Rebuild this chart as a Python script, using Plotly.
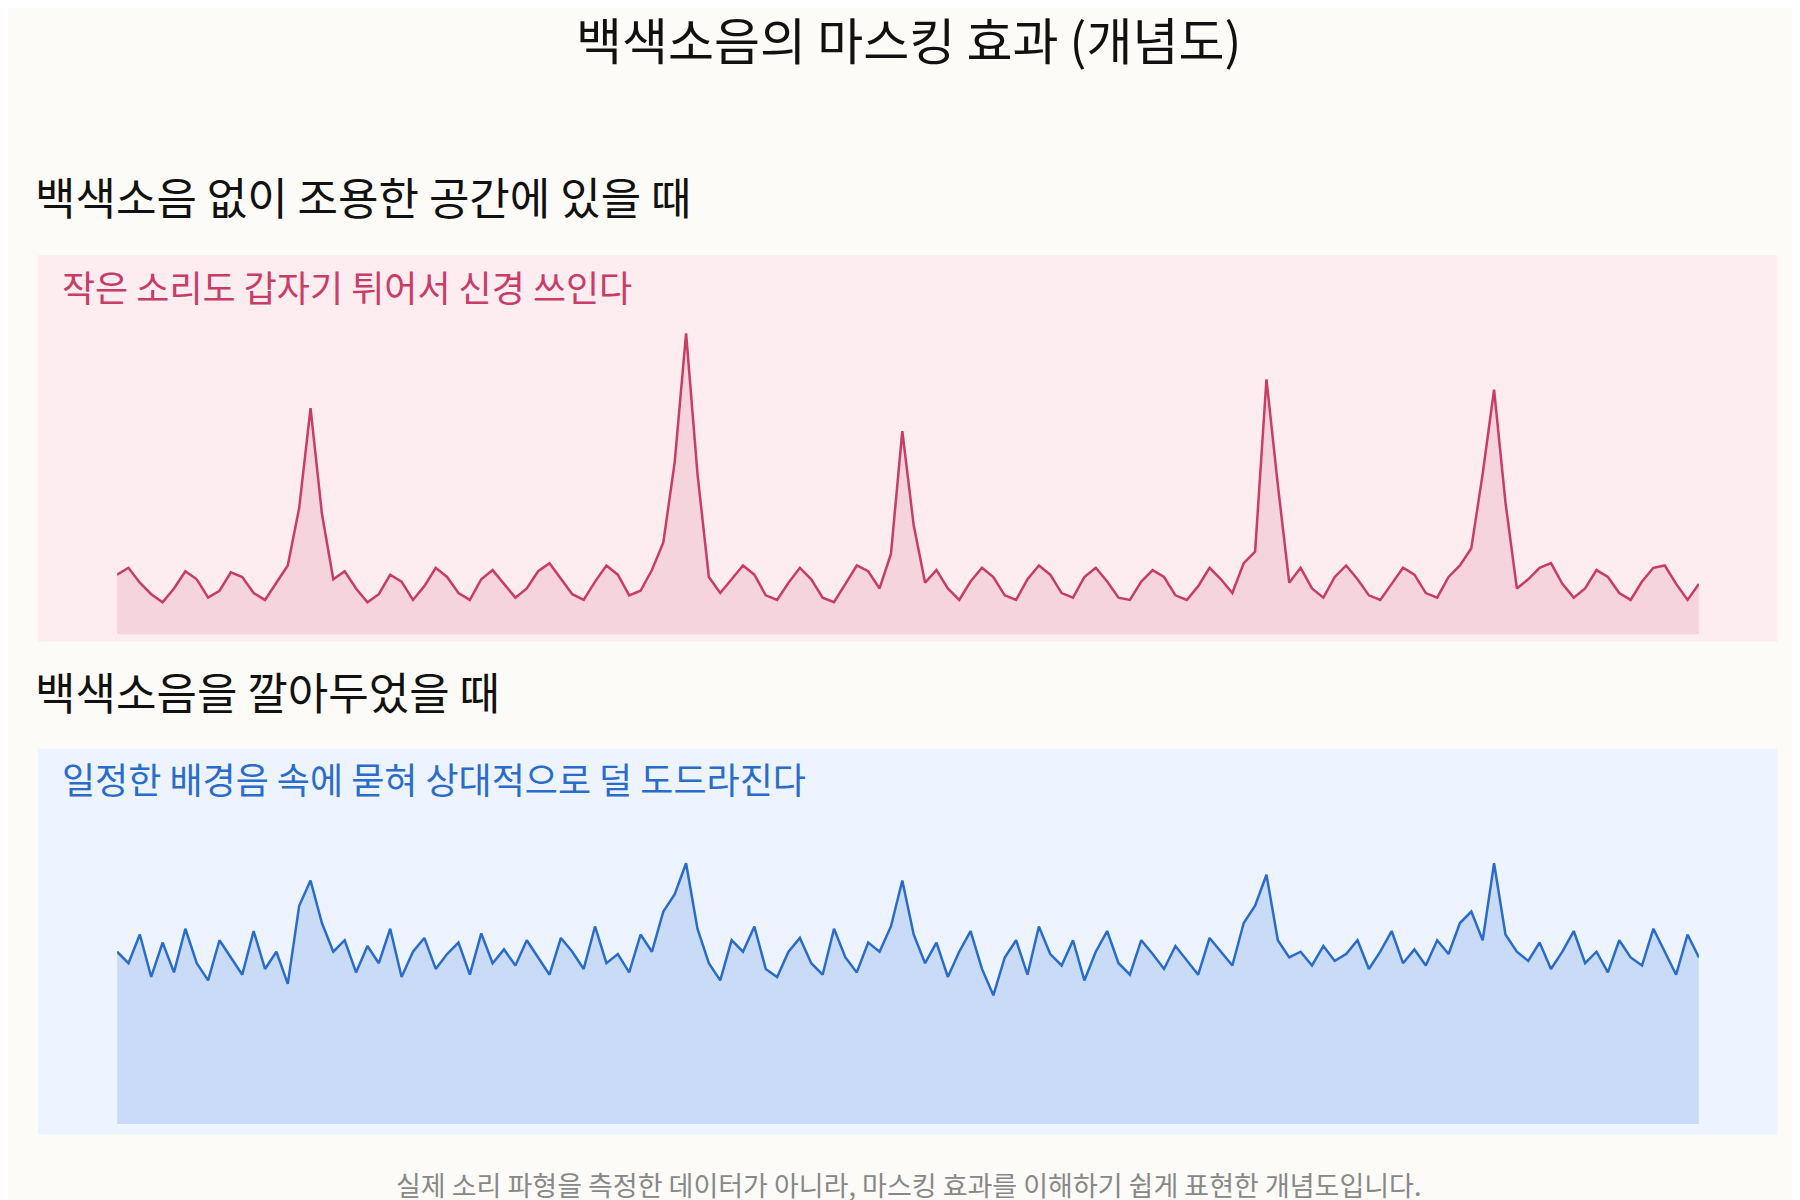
import plotly.graph_objects as go

# sample positions 0..138 across the panel; heights are pixel-like amplitude units
quiet = [52, 58, 45, 35, 28, 40, 55, 48, 32, 38,
         54, 50, 36, 30, 45, 60, 110, 197, 105, 48,
         55, 40, 28, 35, 52, 46, 30, 42, 58, 50,
         36, 30, 48, 56, 44, 32, 40, 55, 62, 48,
         35, 30, 46, 60, 52, 34, 38, 56, 80, 150,
         262, 140, 50, 36, 48, 60, 52, 34, 30, 45,
         58, 48, 32, 28, 44, 60, 55, 40, 70, 177,
         95, 45, 56, 40, 30, 46, 58, 50, 34, 30,
         48, 60, 52, 36, 32, 50, 58, 46, 32, 30,
         46, 56, 50, 34, 30, 42, 58, 48, 36, 62,
         72, 222, 130, 45, 58, 40, 32, 50, 60, 48,
         34, 30, 44, 58, 52, 36, 32, 50, 60, 75,
         140, 213, 115, 40, 48, 58, 62, 44, 32, 40,
         56, 50, 36, 30, 46, 58, 60, 44, 30, 44]

masked = [150, 140, 165, 128, 158, 132, 170, 140, 125, 160,
          145, 130, 168, 135, 150, 122, 190, 212, 175, 150,
          160, 132, 155, 140, 170, 128, 150, 162, 135, 148,
          158, 130, 166, 140, 152, 138, 160, 145, 130, 162,
          150, 135, 172, 140, 148, 132, 165, 150, 185, 200,
          227, 170, 140, 125, 160, 150, 172, 135, 128, 150,
          162, 140, 130, 170, 145, 132, 158, 150, 172, 212,
          165, 140, 158, 128, 150, 168, 135, 112, 145, 160,
          130, 172, 148, 138, 160, 125, 150, 168, 140, 130,
          160, 148, 135, 155, 142, 130, 162, 150, 138, 175,
          190, 217, 160, 145, 150, 138, 155, 142, 148, 160,
          135, 150, 168, 140, 152, 138, 160, 148, 175, 185,
          160, 227, 165, 150, 142, 158, 135, 150, 168, 140,
          150, 132, 160, 145, 138, 170, 150, 130, 165, 145]

xs = [i / (len(quiet) - 1) for i in range(len(quiet))]

title = "백색소음의 마스킹 효과 (개념도)"
heading_top = "백색소음 없이 조용한 공간에 있을 때"
heading_bottom = "백색소음을 깔아두었을 때"
note_top = "작은 소리도 갑자기 튀어서 신경 쓰인다"
note_bottom = "일정한 배경음 속에 묻혀 상대적으로 덜 도드라진다"
footer = "실제 소리 파형을 측정한 데이터가 아니라, 마스킹 효과를 이해하기 쉽게 표현한 개념도입니다."

FONT = "Noto Sans CJK KR"

fig = go.Figure()
fig.add_trace(go.Scatter(x=xs, y=quiet, mode="lines", fill="tozeroy",
                         line=dict(color="#c93c66", width=2.5),
                         fillcolor="rgba(214,90,130,0.16)",
                         xaxis="x", yaxis="y", showlegend=False, hoverinfo="skip"))
fig.add_trace(go.Scatter(x=xs, y=masked, mode="lines", fill="tozeroy",
                         line=dict(color="#2a6ccc", width=2.5),
                         fillcolor="rgba(60,120,210,0.20)",
                         xaxis="x2", yaxis="y2", showlegend=False, hoverinfo="skip"))

ax = dict(visible=False, range=[0, 1], fixedrange=True)
fig.update_layout(
    width=1800, height=1200,
    margin=dict(l=0, r=0, t=0, b=0),
    paper_bgcolor="#fcfbf7", plot_bgcolor="rgba(0,0,0,0)",
    font=dict(family=FONT),
    xaxis=dict(ax, domain=[0.0606, 0.9394]),
    yaxis=dict(visible=False, range=[0, 280], domain=[0.478, 0.746]),
    xaxis2=dict(ax, domain=[0.0606, 0.9394]),
    yaxis2=dict(visible=False, range=[0, 280], domain=[0.070, 0.338], anchor="x2"),
)
fig.update_layout(yaxis2_anchor="x2", xaxis2_anchor="y2")

fig.add_shape(type="rect", xref="paper", yref="paper", x0=0.0166, x1=0.983,
              y0=0.472, y1=0.794, fillcolor="#fdecf0", line_width=0, layer="below")
fig.add_shape(type="rect", xref="paper", yref="paper", x0=0.0166, x1=0.983,
              y0=0.061, y1=0.383, fillcolor="#edf4ff", line_width=0, layer="below")

def txt(s, x, y, size, color, xanchor="left"):
    fig.add_annotation(text=s, x=x, y=y, xref="paper", yref="paper", showarrow=False,
                       xanchor=xanchor, yanchor="middle",
                       font=dict(family=FONT, size=size, color=color))

txt(title, 0.5, 0.975, 50, "#111111", "center")
txt(heading_top, 0.014, 0.843, 44, "#111111")
txt(note_top, 0.029, 0.768, 36, "#c93c66")
txt(heading_bottom, 0.014, 0.431, 44, "#111111")
txt(note_bottom, 0.029, 0.358, 36, "#2a6ccc")
txt(footer, 0.5, 0.020, 27, "#888888", "center")

fig.write_html("out.html")
